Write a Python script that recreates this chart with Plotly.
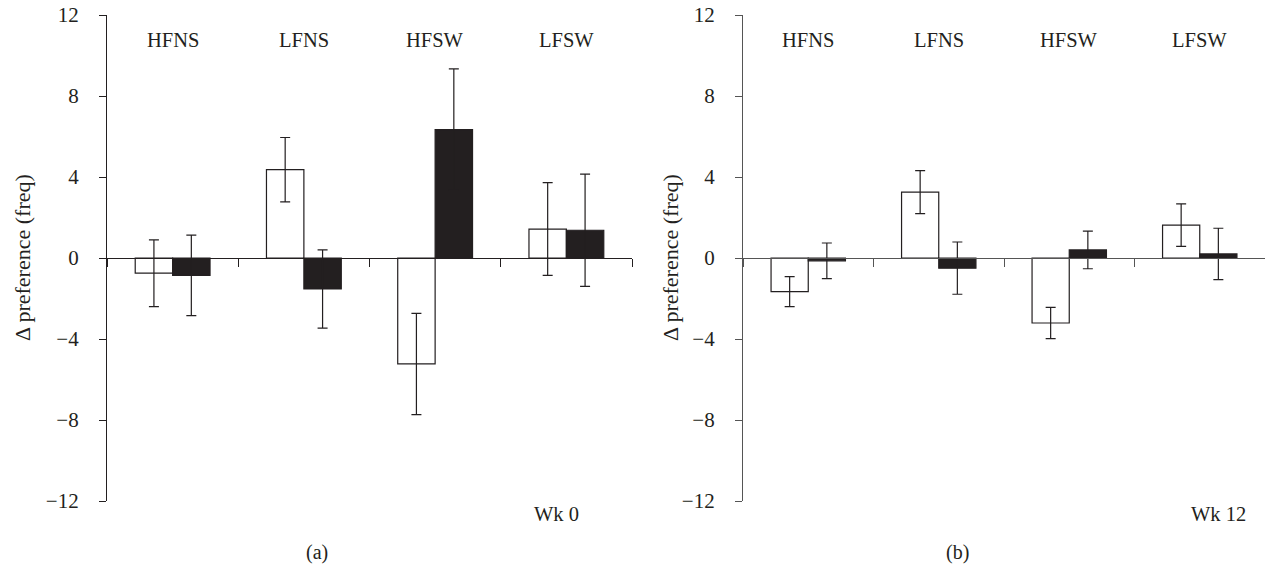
import plotly.graph_objects as go

categories = ["HFNS", "LFNS", "HFSW", "LFSW"]

# Panel (a) Wk 0
a_white = [-0.75, 4.36, -5.23, 1.43]
a_white_err = [1.65, 1.59, 2.50, 2.29]
a_black = [-0.86, -1.53, 6.34, 1.37]
a_black_err = [1.99, 1.93, 3.00, 2.77]

# Panel (b) Wk 12
b_white = [-1.66, 3.25, -3.21, 1.62]
b_white_err = [0.74, 1.06, 0.77, 1.05]
b_black = [-0.14, -0.50, 0.40, 0.20]
b_black_err = [0.88, 1.29, 0.93, 1.27]

y_ticks = [-12, -8, -4, 0, 4, 8, 12]
y_ticktext = ["\u221212", "\u22128", "\u22124", "0", "4", "8", "12"]

FONT = "Liberation Serif"
INK = "#231f20"
FS_TICK = 21
FS_CAT = 20.5
FS_TITLE = 22
FS_WK = 20.5
FS_PANEL = 20

fig = go.Figure()

def add_bars(white, werr, black, berr, xa, ya):
    fig.add_trace(go.Bar(x=categories, y=white, xaxis=xa, yaxis=ya,
                         marker=dict(color="white", line=dict(color=INK, width=1.2)),
                         error_y=dict(type="data", array=werr, visible=True,
                                      color=INK, thickness=1.2, width=5),
                         showlegend=False, hoverinfo="skip"))
    fig.add_trace(go.Bar(x=categories, y=black, xaxis=xa, yaxis=ya,
                         marker=dict(color=INK, line=dict(color=INK, width=1.2)),
                         error_y=dict(type="data", array=berr, visible=True,
                                      color=INK, thickness=1.2, width=5),
                         showlegend=False, hoverinfo="skip"))

add_bars(a_white, a_white_err, a_black, a_black_err, "x", "y")
add_bars(b_white, b_white_err, b_black, b_black_err, "x2", "y2")

ydom = [1 - 501 / 567, 1 - 15 / 567]
zero_pos = (ydom[0] + ydom[1]) / 2

def xaxis_cfg(domain, color):
    return dict(domain=domain, anchor="free", position=zero_pos,
                type="category", range=[-0.5, 3.5], automargin=False,
                showline=True, linecolor=color, linewidth=1.2,
                ticks="outside", ticklen=8, tickwidth=1.2, tickcolor=color,
                tickson="boundaries", showticklabels=False,
                showgrid=False, zeroline=False, fixedrange=True)

def yaxis_cfg(anchor_x, color):
    return dict(domain=ydom, anchor=anchor_x, range=[-12, 12], automargin=False,
                tickvals=y_ticks, ticktext=y_ticktext,
                showline=True, linecolor=color, linewidth=1.2,
                ticks="outside", ticklen=7, tickwidth=1.2, tickcolor=color,
                ticklabelstandoff=16,
                tickfont=dict(family=FONT, size=FS_TICK, color=INK),
                showgrid=False, zeroline=False, fixedrange=True)

fig.update_layout(
    width=1266, height=567,
    margin=dict(l=0, r=0, t=0, b=0),
    paper_bgcolor="white", plot_bgcolor="white",
    barmode="group", bargap=0.43, bargroupgap=0,
    xaxis=xaxis_cfg([107 / 1266, 632 / 1266], INK),
    xaxis2=xaxis_cfg([743 / 1266, 1265 / 1266], "#555555"),
    yaxis=yaxis_cfg("x", INK),
    yaxis2=yaxis_cfg("x2", "#555555"),
    font=dict(family=FONT, size=FS_CAT, color=INK),
    showlegend=False,
    hovermode=False,
)

annotations = []
for xr in ("x", "x2"):
    for c in categories:
        annotations.append(dict(x=c, y=1 - 40 / 567, xref=xr, yref="paper", text=c,
                                showarrow=False, xanchor="center", yanchor="middle",
                                font=dict(family=FONT, size=FS_CAT, color=INK)))

annotations += [
    dict(x=22 / 1266, y=zero_pos, xref="paper", yref="paper", text="\u0394 preference (freq)",
         textangle=-90, showarrow=False, xanchor="center", yanchor="middle",
         font=dict(family=FONT, size=FS_TITLE, color=INK)),
    dict(x=670 / 1266, y=zero_pos, xref="paper", yref="paper", text="\u0394 preference (freq)",
         textangle=-90, showarrow=False, xanchor="center", yanchor="middle",
         font=dict(family=FONT, size=FS_TITLE, color=INK)),
    dict(x=556 / 1266, y=1 - 514 / 567, xref="paper", yref="paper", text="Wk 0",
         showarrow=False, xanchor="center", yanchor="middle",
         font=dict(family=FONT, size=FS_WK, color=INK)),
    dict(x=1218 / 1266, y=1 - 514 / 567, xref="paper", yref="paper", text="Wk 12",
         showarrow=False, xanchor="center", yanchor="middle",
         font=dict(family=FONT, size=FS_WK, color=INK)),
    dict(x=317 / 1266, y=1 - 552 / 567, xref="paper", yref="paper", text="(a)",
         showarrow=False, xanchor="center", yanchor="middle",
         font=dict(family=FONT, size=FS_PANEL, color=INK)),
    dict(x=957 / 1266, y=1 - 552 / 567, xref="paper", yref="paper", text="(b)",
         showarrow=False, xanchor="center", yanchor="middle",
         font=dict(family=FONT, size=FS_PANEL, color=INK)),
]
fig.update_layout(annotations=annotations)

fig.write_html("out.html", config={"displayModeBar": False},
               post_script="document.body.style.margin='0';")
